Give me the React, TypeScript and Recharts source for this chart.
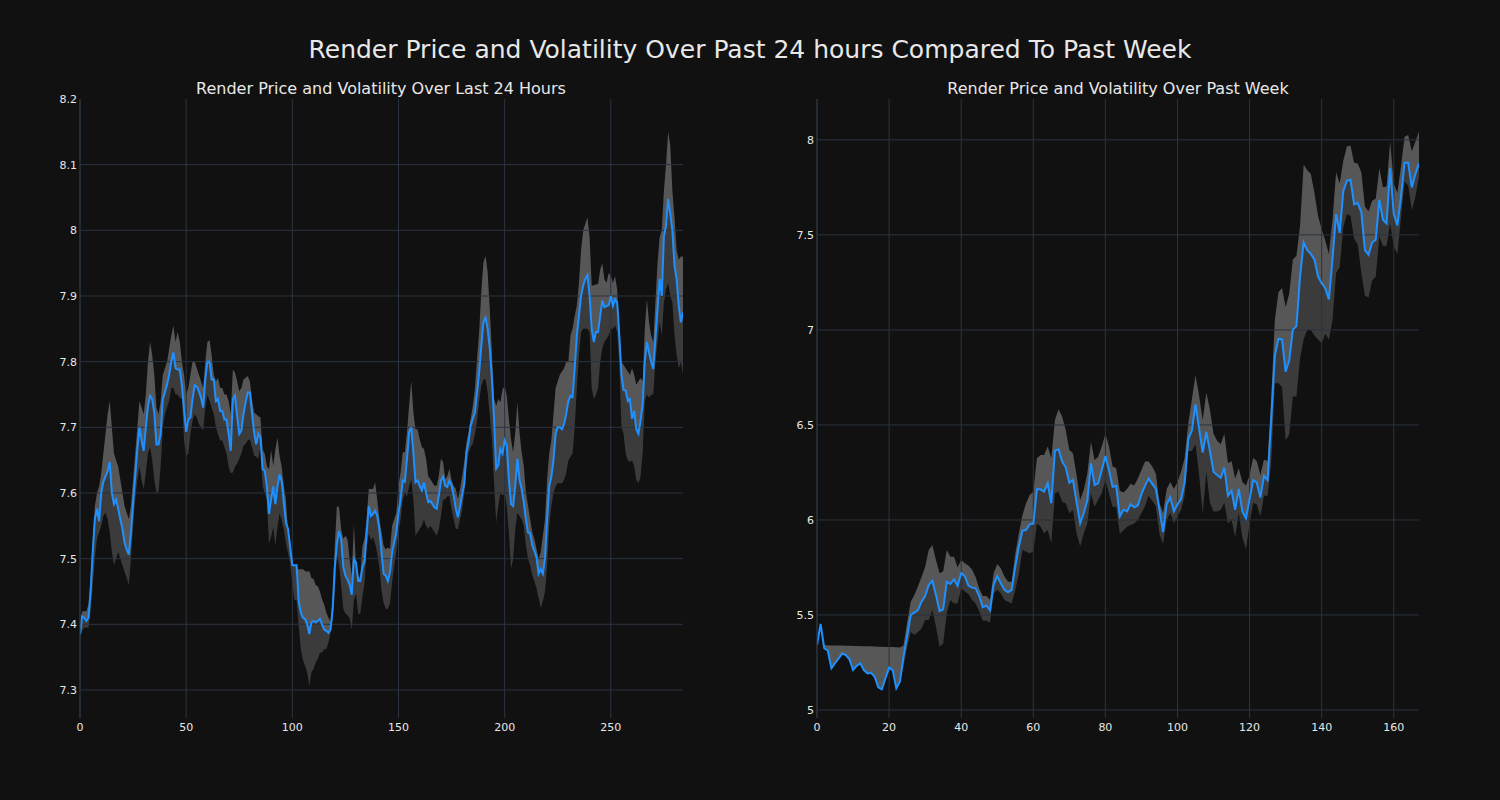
import { ComposedChart, Area, Line, XAxis, YAxis, ReferenceLine } from 'recharts'

const FONT = '"DejaVu Sans", sans-serif'
const BG = '#111111'
const GRID = '#2b3440'
const TEXT = '#e8e8e8'

// last 24 hours: price and volatility band
const dayPrice = [
  7.385, 7.412, 7.41, 7.405, 7.41, 7.45, 7.51, 7.56, 7.576, 7.557,
  7.6, 7.617, 7.625, 7.633, 7.647, 7.6, 7.583, 7.59, 7.576, 7.56,
  7.545, 7.524, 7.514, 7.506, 7.54, 7.585, 7.625, 7.666, 7.7, 7.68,
  7.664, 7.7, 7.732, 7.748, 7.743, 7.722, 7.674, 7.674, 7.69, 7.743,
  7.753, 7.765, 7.78, 7.8, 7.814, 7.79, 7.788, 7.788, 7.763, 7.727,
  7.693, 7.712, 7.715, 7.743, 7.764, 7.762, 7.755, 7.745, 7.73, 7.773,
  7.8, 7.8, 7.773, 7.773, 7.74, 7.743, 7.725, 7.725, 7.712, 7.712,
  7.69, 7.664, 7.743, 7.748, 7.717, 7.69, 7.695, 7.72, 7.738, 7.753,
  7.753, 7.722, 7.692, 7.674, 7.69, 7.684, 7.636, 7.634, 7.61, 7.568,
  7.59, 7.61, 7.583, 7.61, 7.628, 7.618, 7.585, 7.555, 7.545, 7.517,
  7.49, 7.49, 7.49, 7.435, 7.418, 7.41, 7.408, 7.4, 7.385, 7.403,
  7.405, 7.403, 7.405, 7.408, 7.4, 7.392, 7.39, 7.387, 7.392, 7.423,
  7.487, 7.523, 7.542, 7.53, 7.487, 7.474, 7.468, 7.46, 7.445, 7.5,
  7.494, 7.466, 7.466, 7.487, 7.495, 7.538, 7.58, 7.565, 7.568, 7.573,
  7.565, 7.545, 7.51, 7.477, 7.474, 7.466, 7.479, 7.51, 7.525, 7.54,
  7.57, 7.59, 7.619, 7.617, 7.652, 7.692, 7.7, 7.662, 7.616, 7.619,
  7.611, 7.604, 7.616, 7.6, 7.586, 7.588, 7.583, 7.578, 7.576, 7.596,
  7.619, 7.625, 7.611, 7.609, 7.619, 7.611, 7.596, 7.576, 7.563, 7.58,
  7.598, 7.614, 7.662, 7.677, 7.703, 7.713, 7.723, 7.753, 7.784, 7.824,
  7.86, 7.867, 7.85, 7.82, 7.774, 7.713, 7.637, 7.642, 7.667, 7.66,
  7.68, 7.672, 7.62, 7.583, 7.58, 7.611, 7.652, 7.62, 7.606, 7.586,
  7.56, 7.54, 7.538, 7.52, 7.512, 7.502, 7.477, 7.484, 7.477, 7.5,
  7.56, 7.61, 7.625, 7.65, 7.69, 7.7, 7.7, 7.697, 7.705, 7.72,
  7.74, 7.748, 7.746, 7.79, 7.84, 7.87, 7.9, 7.916, 7.926, 7.932,
  7.9, 7.85, 7.83, 7.845, 7.845, 7.87, 7.893, 7.883, 7.885, 7.886,
  7.9, 7.885, 7.895, 7.89, 7.84, 7.78, 7.757, 7.756, 7.74, 7.743,
  7.713, 7.725, 7.697, 7.69, 7.71, 7.735, 7.8, 7.83, 7.814, 7.8,
  7.789, 7.835, 7.88, 7.926, 7.9, 7.99, 8.007, 8.048, 8.025, 8.0,
  7.946, 7.926, 7.885, 7.86, 7.875,
]
const dayUpper = [
  7.4, 7.42, 7.42, 7.42, 7.43, 7.47, 7.53, 7.58, 7.6, 7.61,
  7.63, 7.66, 7.69, 7.72, 7.74, 7.7, 7.66, 7.65, 7.64, 7.62,
  7.6, 7.58, 7.57, 7.56, 7.58, 7.62, 7.66, 7.7, 7.74, 7.73,
  7.72, 7.75, 7.8, 7.83, 7.81, 7.78, 7.73, 7.72, 7.74, 7.78,
  7.79, 7.8, 7.82, 7.84, 7.855, 7.83, 7.845, 7.83, 7.8, 7.78,
  7.75, 7.76, 7.78, 7.8, 7.8, 7.79, 7.78, 7.77, 7.76, 7.8,
  7.83, 7.833, 7.81, 7.78, 7.77, 7.775, 7.76, 7.76, 7.75, 7.75,
  7.74, 7.72, 7.788, 7.783, 7.77, 7.755, 7.76, 7.773, 7.775, 7.778,
  7.77, 7.743, 7.722, 7.72, 7.717, 7.715, 7.666, 7.66, 7.641, 7.636,
  7.666, 7.641, 7.666, 7.684, 7.656, 7.64, 7.611, 7.59, 7.54, 7.51,
  7.484, 7.484, 7.484, 7.484, 7.484, 7.484, 7.481, 7.48, 7.481, 7.47,
  7.469, 7.46, 7.458, 7.45, 7.438, 7.43, 7.418, 7.41, 7.403, 7.44,
  7.52, 7.58, 7.578, 7.545, 7.53, 7.535, 7.529, 7.499, 7.474, 7.552,
  7.489, 7.475, 7.47, 7.519, 7.53, 7.56, 7.606, 7.606, 7.606, 7.616,
  7.59, 7.56, 7.54, 7.52, 7.514, 7.517, 7.515, 7.55, 7.56, 7.57,
  7.611, 7.631, 7.662, 7.662, 7.692, 7.733, 7.771, 7.723, 7.697, 7.697,
  7.682, 7.67, 7.667, 7.652, 7.626, 7.621, 7.616, 7.611, 7.611, 7.626,
  7.652, 7.647, 7.621, 7.626, 7.637, 7.619, 7.611, 7.606, 7.591, 7.606,
  7.626, 7.647, 7.677, 7.692, 7.713, 7.733, 7.758, 7.804, 7.845, 7.906,
  7.951, 7.961, 7.936, 7.88, 7.814, 7.743, 7.733, 7.743, 7.738, 7.758,
  7.763, 7.748, 7.713, 7.682, 7.662, 7.692, 7.738, 7.692, 7.662, 7.642,
  7.601, 7.581, 7.56, 7.54, 7.53, 7.515, 7.5, 7.51, 7.535, 7.56,
  7.62, 7.66, 7.68, 7.72, 7.76, 7.77, 7.78, 7.785, 7.79, 7.8,
  7.8, 7.84, 7.85, 7.87, 7.885, 7.92, 7.97, 8.0, 8.01, 8.02,
  7.99, 7.916, 7.916, 7.918, 7.918, 7.94, 7.95, 7.925, 7.92, 7.935,
  7.93, 7.92, 7.93, 7.91, 7.85, 7.8, 7.795, 7.79, 7.785, 7.78,
  7.79, 7.78, 7.765, 7.77, 7.775, 7.77, 7.85, 7.895, 7.86, 7.84,
  7.83, 7.89, 7.95, 7.99, 8.0, 8.06, 8.1, 8.15, 8.13, 8.06,
  8.02, 7.97, 7.955, 7.96, 7.96,
]
const dayLower = [
  7.375, 7.39, 7.395, 7.395, 7.395, 7.42, 7.46, 7.5, 7.53, 7.54,
  7.55, 7.565, 7.57, 7.56, 7.54, 7.51, 7.49, 7.5, 7.51, 7.5,
  7.49, 7.48, 7.47, 7.46, 7.5, 7.55, 7.59, 7.62, 7.64, 7.62,
  7.606, 7.63, 7.66, 7.67, 7.65, 7.62, 7.6, 7.603, 7.64, 7.7,
  7.72, 7.73, 7.74, 7.76, 7.76, 7.75, 7.75, 7.745, 7.743, 7.68,
  7.656, 7.66, 7.69, 7.71, 7.72, 7.715, 7.705, 7.7, 7.695, 7.73,
  7.75, 7.74, 7.73, 7.72, 7.7, 7.69, 7.68, 7.68, 7.67, 7.66,
  7.64, 7.63, 7.631, 7.64, 7.645, 7.652, 7.66, 7.672, 7.675, 7.68,
  7.682, 7.67, 7.657, 7.655, 7.652, 7.672, 7.611, 7.6, 7.59, 7.523,
  7.533, 7.548, 7.52, 7.548, 7.569, 7.559, 7.544, 7.523, 7.508, 7.493,
  7.462, 7.437, 7.437, 7.397, 7.362, 7.346, 7.337, 7.327, 7.306, 7.327,
  7.332, 7.342, 7.347, 7.357, 7.357, 7.362, 7.362, 7.372, 7.387, 7.408,
  7.449, 7.505, 7.49, 7.459, 7.424, 7.416, 7.414, 7.409, 7.392, 7.437,
  7.447, 7.416, 7.416, 7.442, 7.462, 7.518, 7.538, 7.528, 7.533, 7.523,
  7.508, 7.487, 7.452, 7.432, 7.424, 7.423, 7.433, 7.464, 7.49, 7.51,
  7.54, 7.56, 7.59, 7.6, 7.595, 7.61, 7.62, 7.59, 7.535, 7.54,
  7.545, 7.55, 7.56, 7.55, 7.545, 7.55, 7.545, 7.54, 7.535, 7.545,
  7.565, 7.59, 7.59, 7.595, 7.595, 7.575, 7.56, 7.545, 7.545, 7.56,
  7.575, 7.6, 7.64, 7.66, 7.67, 7.675, 7.69, 7.71, 7.74, 7.763,
  7.773, 7.773, 7.753, 7.718, 7.682, 7.616, 7.555, 7.58, 7.6, 7.596,
  7.6, 7.58, 7.54, 7.484, 7.5, 7.545, 7.57, 7.565, 7.56, 7.55,
  7.52, 7.5, 7.49, 7.475, 7.465, 7.455, 7.44, 7.425, 7.435, 7.45,
  7.49, 7.55, 7.58, 7.6, 7.61, 7.615, 7.615, 7.615, 7.62, 7.63,
  7.65, 7.655, 7.66, 7.7, 7.76, 7.81, 7.845, 7.85, 7.85, 7.85,
  7.845, 7.76, 7.743, 7.75, 7.76, 7.8, 7.82, 7.83, 7.835, 7.84,
  7.85, 7.85, 7.855, 7.845, 7.8, 7.7, 7.69, 7.66, 7.65, 7.647,
  7.65, 7.64, 7.62, 7.615, 7.625, 7.66, 7.74, 7.75, 7.745, 7.75,
  7.75, 7.8, 7.83, 7.86, 7.84, 7.89, 7.91, 7.92, 7.9, 7.89,
  7.84, 7.81, 7.79, 7.8, 7.78,
]

// past week: price and volatility band
const weekPrice = [
  5.342, 5.453, 5.325, 5.312, 5.219, 5.246, 5.272, 5.298, 5.289, 5.267,
  5.21, 5.232, 5.246, 5.21, 5.193, 5.196, 5.175, 5.119, 5.109, 5.167,
  5.223, 5.21, 5.114, 5.149, 5.281, 5.386, 5.5, 5.512, 5.526, 5.57,
  5.6, 5.658, 5.68, 5.605, 5.521, 5.53, 5.675, 5.663, 5.688, 5.653,
  5.72, 5.705, 5.655, 5.644, 5.64, 5.6, 5.54, 5.55, 5.525, 5.66,
  5.705, 5.667, 5.632, 5.619, 5.632, 5.754, 5.86, 5.944, 5.947, 5.977,
  5.979, 6.161, 6.161, 6.149, 6.193, 6.088, 6.365, 6.372, 6.307, 6.277,
  6.196, 6.21, 6.096, 5.982, 6.035, 6.105, 6.298, 6.184, 6.193, 6.263,
  6.337, 6.263, 6.175, 6.179, 6.018, 6.054, 6.045, 6.082, 6.067, 6.076,
  6.136, 6.181, 6.218, 6.19, 6.163, 6.054, 5.936, 6.082, 6.118, 6.045,
  6.082, 6.109, 6.2, 6.426, 6.472, 6.608, 6.481, 6.354, 6.463, 6.363,
  6.254, 6.236, 6.221, 6.276, 6.127, 6.154, 6.054, 6.163, 6.045, 6.009,
  6.109, 6.209, 6.196, 6.118, 6.232, 6.209, 6.526, 6.862, 6.953, 6.95,
  6.78, 6.84, 7.0, 7.02, 7.28, 7.46, 7.42, 7.4, 7.37, 7.28,
  7.246, 7.22, 7.16, 7.37, 7.61, 7.51, 7.73, 7.785, 7.79, 7.66,
  7.667, 7.62, 7.42, 7.395, 7.46, 7.475, 7.684, 7.58, 7.56, 7.85,
  7.61, 7.55, 7.7, 7.88, 7.88, 7.75, 7.82, 7.877,
]
const weekUpper = [
  5.342, 5.453, 5.341, 5.341, 5.34, 5.34, 5.339, 5.339, 5.338, 5.338,
  5.337, 5.337, 5.336, 5.336, 5.335, 5.335, 5.334, 5.333, 5.333, 5.332,
  5.331, 5.331, 5.33, 5.329, 5.34, 5.46, 5.57, 5.605, 5.65, 5.7,
  5.754, 5.842, 5.868, 5.79, 5.72, 5.73, 5.842, 5.807, 5.807, 5.75,
  5.79, 5.772, 5.76, 5.74, 5.7, 5.64, 5.6, 5.6, 5.58, 5.72,
  5.768, 5.746, 5.702, 5.675, 5.675, 5.82, 5.93, 6.026, 6.088, 6.132,
  6.149, 6.325, 6.342, 6.342, 6.386, 6.325, 6.526, 6.582, 6.544, 6.474,
  6.368, 6.351, 6.237, 6.105, 6.158, 6.246, 6.412, 6.316, 6.333, 6.386,
  6.453, 6.386, 6.281, 6.272, 6.154, 6.145, 6.163, 6.19, 6.181, 6.218,
  6.263, 6.308, 6.308, 6.281, 6.245, 6.091, 6.036, 6.163, 6.2, 6.163,
  6.2, 6.254, 6.327, 6.508, 6.635, 6.762, 6.653, 6.526, 6.671, 6.58,
  6.454, 6.417, 6.399, 6.454, 6.3, 6.309, 6.218, 6.272, 6.2, 6.181,
  6.236, 6.327, 6.309, 6.236, 6.318, 6.309, 6.64, 7.05, 7.198, 7.22,
  7.12, 7.19, 7.37, 7.39, 7.55, 7.87, 7.84, 7.82, 7.72, 7.6,
  7.53, 7.47, 7.4, 7.58, 7.83, 7.77, 7.89, 7.965, 7.97, 7.88,
  7.875, 7.83, 7.65, 7.625, 7.68, 7.69, 7.85, 7.75, 7.755, 7.99,
  7.77, 7.72, 7.86, 8.017, 8.026, 7.94, 7.99, 8.044,
]
const weekLower = [
  5.342, 5.453, 5.325, 5.312, 5.219, 5.246, 5.272, 5.298, 5.289, 5.267,
  5.21, 5.232, 5.246, 5.21, 5.193, 5.196, 5.175, 5.119, 5.109, 5.167,
  5.223, 5.21, 5.114, 5.149, 5.23, 5.33, 5.41, 5.395, 5.41, 5.428,
  5.474, 5.474, 5.526, 5.44, 5.333, 5.35, 5.509, 5.579, 5.561, 5.561,
  5.64, 5.623, 5.61, 5.58, 5.56, 5.52, 5.47, 5.47, 5.46, 5.614,
  5.632, 5.614, 5.579, 5.57, 5.56, 5.63, 5.72, 5.842, 5.833, 5.825,
  5.833, 5.982, 5.965, 5.93, 5.947, 5.877, 6.14, 6.149, 6.096, 6.088,
  6.035, 6.053, 5.93, 5.86, 5.93, 5.982, 6.14, 6.07, 6.105, 6.14,
  6.21, 6.14, 6.07, 6.07, 5.927, 5.945, 5.964, 5.973, 5.982, 6.0,
  6.036, 6.073, 6.127, 6.1, 6.073, 5.927, 5.873, 6.0, 6.036, 5.982,
  6.018, 6.054, 6.127, 6.363, 6.363, 6.399, 6.236, 6.036, 6.254, 6.09,
  6.045, 6.045, 6.054, 6.09, 5.982, 6.0, 5.909, 6.036, 5.909, 5.846,
  5.982, 6.09, 6.082, 6.018, 6.127, 6.127, 6.3, 6.72, 6.72, 6.7,
  6.42, 6.45, 6.65, 6.65, 6.85, 6.95, 7.0, 7.0, 6.97, 6.95,
  6.93, 6.98, 6.95, 7.05, 7.3, 7.33, 7.54, 7.61, 7.6, 7.48,
  7.45, 7.3, 7.18, 7.17, 7.26, 7.28, 7.49, 7.44, 7.44, 7.56,
  7.44, 7.4, 7.59, 7.78, 7.76, 7.63, 7.7, 7.807,
]

const dayXTicks = [0, 50, 100, 150, 200, 250]
const dayYTicks = [7.3, 7.4, 7.5, 7.6, 7.7, 7.8, 7.9, 8, 8.1, 8.2]
const weekXTicks = [0, 20, 40, 60, 80, 100, 120, 140, 160]
const weekYTicks = [5, 5.5, 6, 6.5, 7, 7.5, 8]

function buildRows(price: number[], upper: number[], lower: number[]) {
  return price.map((p, i) => ({
    x: i,
    price: p,
    hi: [p, upper[i]],
    lo: [lower[i], p],
  }))
}

const fmt = (v: number) => String(Number(v.toFixed(2)))

type PanelProps = {
  left: number
  rows: ReturnType<typeof buildRows>
  xMax: number
  yDomain: [number, number]
  xTicks: number[]
  yTicks: number[]
  rightMargin: number
}

function Panel({ left, rows, xMax, yDomain, xTicks, yTicks, rightMargin }: PanelProps) {
  const tick = { fill: TEXT, fontSize: 11, fontFamily: FONT }
  // grid drawn only where a tick sits strictly inside the plot area
  const hLines = yTicks.filter((t) => t > yDomain[0] && t < yDomain[1])
  return (
    <div style={{ position: 'absolute', left, top: 0 }}>
      <ComposedChart width={700} height={760} data={rows}
        margin={{ top: 99, right: rightMargin, bottom: 0, left: 0 }}>
        <XAxis dataKey="x" type="number" domain={[0, xMax]} ticks={xTicks} height={42}
          tick={tick} tickLine={false} axisLine={false} tickSize={3} tickMargin={2} allowDataOverflow />
        <YAxis type="number" domain={yDomain} ticks={yTicks} width={80} tick={tick}
          tickLine={false} axisLine={{ stroke: GRID }} tickSize={3} tickMargin={0}
          tickFormatter={fmt} allowDataOverflow />
        {xTicks.map((t) => (
          <ReferenceLine key={'vx' + t} x={t} stroke={GRID} strokeWidth={1} />
        ))}
        {hLines.map((t) => (
          <ReferenceLine key={'hy' + t} y={t} stroke={GRID} strokeWidth={1} />
        ))}
        <Area dataKey="hi" type="linear" stroke="none" fill="#575757" fillOpacity={1}
          isAnimationActive={false} />
        <Area dataKey="lo" type="linear" stroke="none" fill="#3b3b3b" fillOpacity={1}
          isAnimationActive={false} />
        <Line dataKey="price" type="linear" stroke="#1e90ff" strokeWidth={2} dot={false}
          isAnimationActive={false} />
      </ComposedChart>
    </div>
  )
}

export default function App() {
  const dayRows = buildRows(dayPrice, dayUpper, dayLower)
  const weekRows = buildRows(weekPrice, weekUpper, weekLower)
  const titleStyle = {
    position: 'absolute' as const, color: TEXT, fontFamily: FONT, fontSize: 16,
    textAlign: 'center' as const, width: 700, top: 78, lineHeight: '22px',
  }
  return (
    <div style={{ position: 'fixed', left: 0, top: 0, width: 1500, height: 800, background: BG, overflow: 'hidden' }}>
      <div style={{
        position: 'absolute', top: 35, left: 0, width: 1500, textAlign: 'center',
        color: TEXT, fontFamily: FONT, fontSize: 25, lineHeight: '30px',
      }}>
        Render Price and Volatility Over Past 24 hours Compared To Past Week
      </div>
      <div style={{ ...titleStyle, left: 31 }}>Render Price and Volatility Over Last 24 Hours</div>
      <div style={{ ...titleStyle, left: 768 }}>Render Price and Volatility Over Past Week</div>
      <Panel left={0} rows={dayRows} xMax={284} yDomain={[7.2573, 8.2]}
        xTicks={dayXTicks} yTicks={dayYTicks} rightMargin={17} />
      <Panel left={737} rows={weekRows} xMax={167} yDomain={[4.958, 8.215]}
        xTicks={weekXTicks} yTicks={weekYTicks} rightMargin={18} />
    </div>
  )
}
